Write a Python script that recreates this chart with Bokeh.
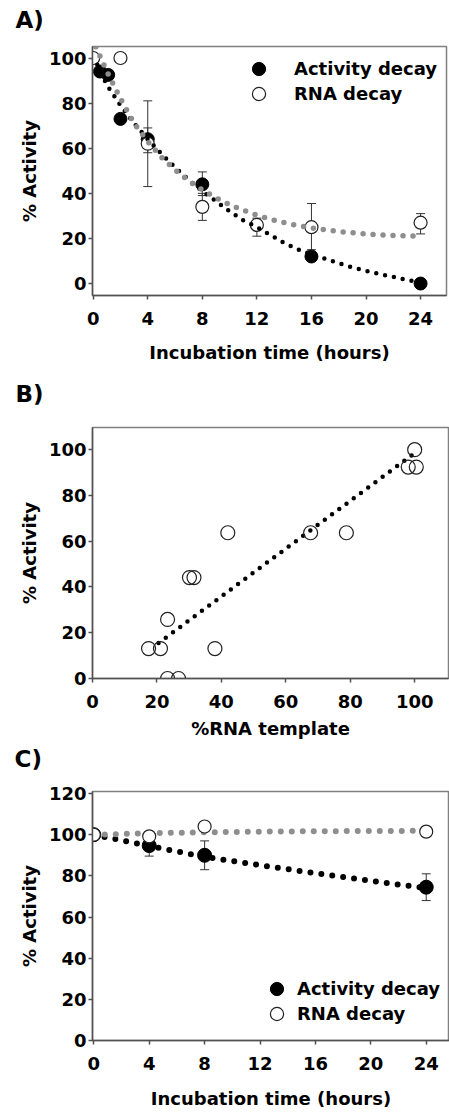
from bokeh.plotting import figure
from bokeh.models import (ColumnDataSource, Whisker, TeeHead, FixedTicker,
                          Legend, LegendItem, Range1d, Label)
from bokeh.layouts import column
from bokeh.embed import file_html
from bokeh.resources import INLINE

FONT = "DejaVu Sans"
GRAY = "#8e8e8e"

# ---------------- Panel A data ----------------
a_act_x = [0.5, 1.1, 2, 4, 8, 16, 24]
a_act_y = [94, 92.5, 73, 64, 44, 12, 0]
a_rna_x = [0, 2, 4, 8, 12, 16, 24]
a_rna_y = [100, 100, 62, 34, 26, 25, 27]
a_act_err_x = [4, 8]
a_act_err_lo = [58, 39]
a_act_err_hi = [69, 49.5]
a_rna_err_x = [4, 8, 12, 16, 24]
a_rna_err_lo = [43, 28, 21, 15, 22]
a_rna_err_hi = [81, 40, 29, 35.5, 31]
a_act_trend_x = [0.3, 1, 2, 3, 4, 5, 6, 7, 8, 9, 10, 11, 12, 13, 14, 15, 16,
                 17, 18, 19, 20, 21, 22, 23, 24]
a_act_trend_y = [97, 88, 79, 71, 64, 57.5, 51.5, 46, 41, 36.5, 32, 28, 25,
                 21.5, 18, 15.2, 13, 11, 9, 7.2, 5.6, 4.2, 3, 1.6, 0.5]
a_rna_trend_x = [0.2, 1, 2, 3, 4, 5, 6, 7, 8, 9, 10, 11, 12, 13, 14, 15, 16,
                 17, 18, 19, 20, 21, 22, 23, 23.8]
a_rna_trend_y = [105, 94, 82, 71, 63, 56, 50.5, 45.5, 41.5, 38, 35, 32.5,
                 30.3, 28.5, 27, 25.7, 24.7, 23.8, 23.1, 22.5, 22, 21.6, 21.3,
                 21.1, 21]
a_xticks = [0, 4, 8, 12, 16, 20, 24]
a_yticks = [0, 20, 40, 60, 80, 100]

# ---------------- Panel B data ----------------
b_x = [100, 98, 100.5, 42, 67.7, 78.8, 30.1, 31.5, 23.3, 17.4, 21.1, 38, 23.3, 26.7]
b_y = [100, 92.4, 92.4, 63.7, 63.7, 63.7, 44.1, 44.1, 25.8, 13.1, 13.1, 13.1, 0, 0]
b_trend_x = [20.5, 99.5]
b_trend_y = [15.5, 98]
b_xticks = [0, 20, 40, 60, 80, 100]
b_yticks = [0, 20, 40, 60, 80, 100]

# ---------------- Panel C data ----------------
c_act_x = [0, 4, 8, 24]
c_act_y = [100, 94.7, 90, 74.5]
c_rna_x = [0, 4, 8, 24]
c_rna_y = [100, 99.2, 104, 101.5]
c_act_err_x = [4, 8, 24]
c_act_err_lo = [89.6, 83, 68]
c_act_err_hi = [99.5, 97, 81]
c_act_trend_x = [0, 4, 8, 12, 16, 20, 24]
c_act_trend_y = [100, 94.5, 89.2, 85.2, 81.3, 77.6, 74]
c_rna_trend_x = [0, 4, 8, 12, 16, 20, 23.8]
c_rna_trend_y = [100, 100.7, 101.2, 101.5, 101.7, 101.8, 101.9]
c_xticks = [0, 4, 8, 12, 16, 20, 24]
c_yticks = [0, 20, 40, 60, 80, 100, 120]


def make_fig(xr, yr, fw, fh, left, right, top, bottom, letter, lx, ly,
             xticks, yticks, xlabel, x_lab_stand, y_lab_stand=6):
    p = figure(frame_width=fw, frame_height=fh,
               x_range=Range1d(*xr), y_range=Range1d(*yr),
               output_backend="svg", toolbar_location=None,
               min_border_left=left, min_border_right=right,
               min_border_top=top, min_border_bottom=bottom)
    p.grid.visible = False
    p.outline_line_color = "#808080"
    p.outline_line_width = 1.5
    p.background_fill_color = "white"
    p.border_fill_color = "white"
    p.xaxis.ticker = FixedTicker(ticks=xticks)
    p.yaxis.ticker = FixedTicker(ticks=yticks)
    for ax in (p.xaxis, p.yaxis):
        ax.axis_line_color = "#505050"
        ax.axis_line_width = 1.5
        ax.major_tick_line_color = "#505050"
        ax.major_tick_line_width = 1.5
        ax.major_tick_out = 4
        ax.major_tick_in = 0
        ax.minor_tick_line_color = None
        ax.major_label_text_font = FONT
        ax.major_label_text_font_size = "18px"
        ax.major_label_text_font_style = "bold"
        ax.major_label_text_color = "black"
        ax.axis_label_text_font = FONT
        ax.axis_label_text_font_size = "18px"
        ax.axis_label_text_font_style = "bold"
        ax.axis_label_text_color = "black"
    p.xaxis.major_label_standoff = 12
    p.yaxis.major_label_standoff = 2
    p.xaxis.axis_label = xlabel
    p.yaxis.axis_label = "% Activity"
    p.xaxis.axis_label_standoff = x_lab_stand
    p.yaxis.axis_label_standoff = y_lab_stand
    p.add_layout(Label(x=lx, y=ly, x_units="screen", y_units="screen",
                       text=letter, text_font=FONT, text_font_size="23px",
                       text_font_style="bold", text_color="black",
                       text_align="left", text_baseline="alphabetic"),
                 "above")
    return p


def whisker(p, xs, lo, hi):
    src = ColumnDataSource(dict(x=xs, lower=lo, upper=hi))
    w = Whisker(base="x", lower="lower", upper="upper", source=src,
                dimension="height", line_color="#333333", line_width=1,
                upper_head=TeeHead(size=9, line_color="#333333", line_width=1),
                lower_head=TeeHead(size=9, line_color="#333333", line_width=1))
    p.add_layout(w)


def dotted(p, xs, ys, color, width, dash):
    p.line(xs, ys, line_color=color, line_width=width, line_dash=dash,
           line_cap="round", line_join="round")


def legend(label, renderer, loc, standoff):
    return Legend(items=[LegendItem(label=label, renderers=[renderer])],
                  location=loc, glyph_width=33, glyph_height=33,
                  label_height=33, label_standoff=standoff, spacing=0,
                  padding=0, margin=0, border_line_color=None,
                  background_fill_alpha=0, label_text_font=FONT,
                  label_text_font_size="18px", label_text_font_style="bold",
                  label_text_color="black")


# ---------------- Figure A ----------------
pa = make_fig((-0.05, 25.9), (-5.3, 105.1), 354, 249, 91, 4, 46, 80, "A)",
              -77, 27, a_xticks, a_yticks, "Incubation time (hours)", 14)
whisker(pa, a_rna_err_x, a_rna_err_lo, a_rna_err_hi)
whisker(pa, a_act_err_x, a_act_err_lo, a_act_err_hi)
ra_act = pa.scatter(a_act_x, a_act_y, size=13, fill_color="black",
                    line_color="black")
ra_rna = pa.scatter(a_rna_x, a_rna_y, size=13, fill_color="white",
                    line_color="#222222", line_width=1.2)
dotted(pa, a_act_trend_x, a_act_trend_y, "black", 4.5, "0 9")
dotted(pa, a_rna_trend_x, a_rna_trend_y, GRAY, 5.5, "0 10")
pa.add_layout(legend("Activity decay", ra_act, (150, 210), 19))
pa.add_layout(legend("RNA decay", ra_rna, (150, 185), 19))

# ---------------- Figure B ----------------
pb = make_fig((0, 110.5), (0, 109.7), 356, 251, 91, 2, 52, 67, "B)",
              -77, 34, b_xticks, b_yticks, "%RNA template", 7)
dotted(pb, b_trend_x, b_trend_y, "black", 4.5, "0 9")
pb.scatter(b_x, b_y, size=14, fill_color="white", fill_alpha=0.0,
           line_color="#222222", line_width=1.2)

# ---------------- Figure C ----------------
pc = make_fig((-0.094, 25.68), (0, 121), 357, 249, 92, 0, 46, 76, "C)",
              -78, 33, c_xticks, c_yticks, "Incubation time (hours)", 15)
whisker(pc, c_act_err_x, c_act_err_lo, c_act_err_hi)
rc_act = pc.scatter(c_act_x, c_act_y, size=14, fill_color="black",
                    line_color="black")
dotted(pc, c_act_trend_x, c_act_trend_y, "black", 6, "0 11")
dotted(pc, c_rna_trend_x, c_rna_trend_y, GRAY, 6, "0 11")
rc_rna = pc.scatter(c_rna_x, c_rna_y, size=13, fill_color="white",
                    line_color="#222222", line_width=1.2)
pc.add_layout(legend("Activity decay", rc_act, (168, 35), 4))
pc.add_layout(legend("RNA decay", rc_rna, (168, 10), 4))

layout = column(pa, pb, pc, spacing=0)
open("out.html", "w").write(file_html(layout, INLINE))
